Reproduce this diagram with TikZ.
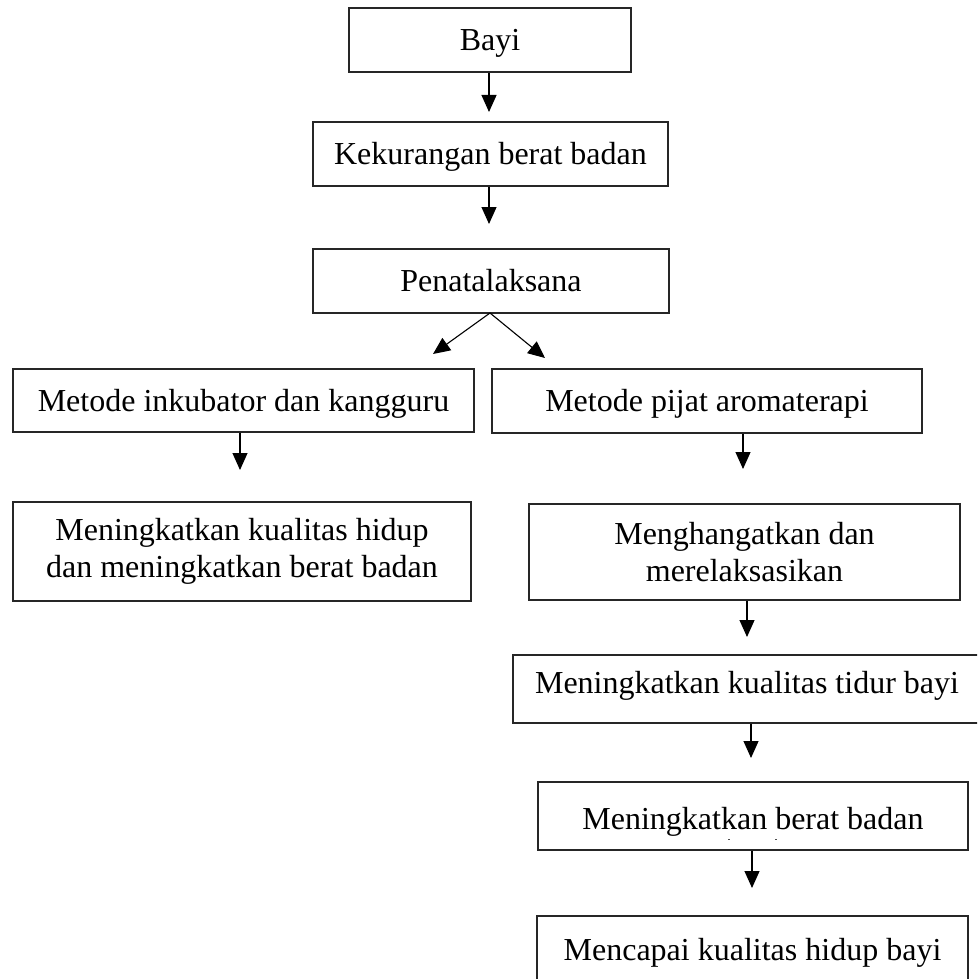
\documentclass[tikz,border=0pt]{standalone}
\usepackage{fontspec}
\setmainfont{Liberation Serif}
\usetikzlibrary{arrows.meta}
\begin{document}
\begin{tikzpicture}[x=1pt,y=-1pt,
  box/.style={draw=black!85, line width=1.3pt, inner sep=0pt, align=center,
    font=\fontsize{32}{37}\selectfont},
  oneline/.style={text height=22.2pt, text depth=1pt},
  arr/.style={draw=black, line width=1.1pt, -{Triangle[length=17pt,width=15pt]}}]
\useasboundingbox (0,0) rectangle (977,979);
\clip (0,0) rectangle (977,979);
\fill[white] (0,0) rectangle (977,979);
% boxes
\node[box, oneline, minimum width=282pt, minimum height=64pt] (bayi) at (490,40) {Bayi};
\node[box, oneline, minimum width=355pt, minimum height=64pt] (kurang) at (490.5,154) {Kekurangan berat badan};
\node[box, oneline, minimum width=356pt, minimum height=64pt] (tata) at (491,281) {Penatalaksana};
\node[box, oneline, minimum width=461pt, minimum height=63pt] (inkub) at (243.5,400.5) {Metode inkubator dan kangguru};
\node[box, oneline, minimum width=430pt, minimum height=64pt] (pijat) at (707,401) {Metode pijat aromaterapi};
\node[box, minimum width=458pt, minimum height=99pt] (hidup) at (242,551.5) {Meningkatkan kualitas hidup\\dan meningkatkan berat badan};
\node[box, minimum width=431pt, minimum height=96pt] (hangat) at (744.5,552) {Menghangatkan dan\\merelaksasikan};
\node[box, text height=10pt, text depth=1pt, minimum width=468pt, minimum height=68pt] (tidur) at (747,689) {Meningkatkan kualitas tidur bayi};
\node[box, text height=28pt, text depth=1pt, minimum width=430pt, minimum height=68pt] (berat) at (753,816) {Meningkatkan berat badan};
\node[box, oneline, minimum width=431pt, minimum height=68pt] (capai) at (752.5,950) {Mencapai kualitas hidup bayi};
% small remnant marks
\draw[black!70, line width=0.8pt] (728,839) -- (730,839) (775,839) -- (777,839);
% arrow tips
\coordinate (t1) at (489,112);
\coordinate (t2) at (489,224);
\coordinate (t3) at (433,354);
\coordinate (t4) at (545,358);
\coordinate (t5) at (240,470);
\coordinate (t6) at (743,469);
\coordinate (t7) at (747,637);
\coordinate (t8) at (751,758);
\coordinate (t9) at (752,888);
\coordinate (split) at (490,313);
% connectors
\draw[arr] (t1 |- bayi.south) -- (t1);
\draw[arr] (t2 |- kurang.south) -- (t2);
\draw[arr] (split) -- (t3);
\draw[arr] (split) -- (t4);
\draw[arr] (t5 |- inkub.south) -- (t5);
\draw[arr] (t6 |- pijat.south) -- (t6);
\draw[arr] (t7 |- hangat.south) -- (t7);
\draw[arr] (t8 |- tidur.south) -- (t8);
\draw[arr] (t9 |- berat.south) -- (t9);
\end{tikzpicture}
\end{document}
